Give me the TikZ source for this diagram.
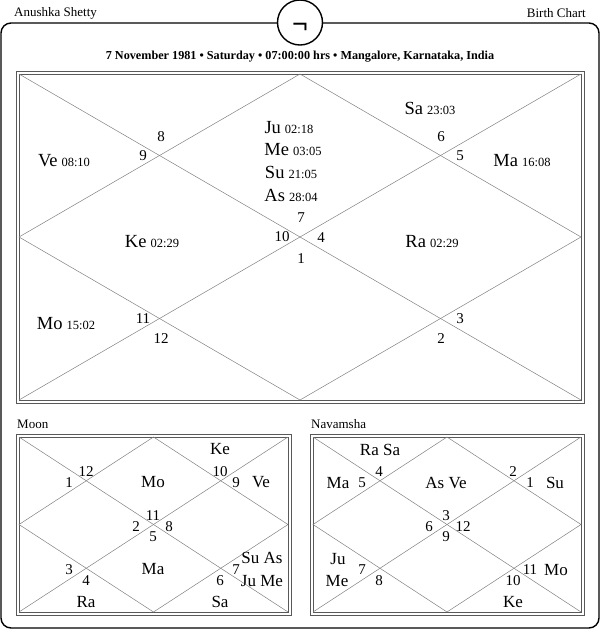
\documentclass[tikz,border=0pt]{standalone}
\usepackage{fontspec}
\setmainfont{Liberation Serif}
\usetikzlibrary{shapes.geometric,calc}
\newcommand{\sz}[1]{\fontsize{#1}{#1}\selectfont}
\newcommand{\pl}[2]{#1\hspace{4pt}{\sz{12.5}#2}}
\tikzset{
  framepath/.style={draw=black,line width=1.4pt,rounded corners=10pt},
  badge/.style={draw=black,fill=white,line width=1.4pt,ellipse,minimum width=45pt,minimum height=45pt,inner sep=0pt},
  box/.style={draw=black!65,line width=.8pt},
  cross/.style={draw=black!50,line width=.5pt},
  captxt/.style={inner sep=0pt,font=\sz{13}},
  big/.style={inner sep=0pt,font=\sz{18.5}},
  mid/.style={inner sep=0pt,font=\sz{17}},
  num/.style={inner sep=0pt,font=\sz{15}}
}
\newcommand{\chart}[5]{% name, x0,y0,x1,y1 (inner box)
  \coordinate (#1tl) at (#2,#3);
  \coordinate (#1tr) at (#4,#3);
  \coordinate (#1bl) at (#2,#5);
  \coordinate (#1br) at (#4,#5);
  \coordinate (#1t) at ({(#2+#4)/2},#3);
  \coordinate (#1b) at ({(#2+#4)/2},#5);
  \coordinate (#1l) at (#2,{(#3+#5)/2});
  \coordinate (#1r) at (#4,{(#3+#5)/2});
  \draw[box] (#1tl) rectangle (#1br);
  \draw[box] ($(#1tl)+(-3,-3)$) rectangle ($(#1br)+(3,3)$);
  \draw[cross] (#1tl) -- (#1br);
  \draw[cross] (#1tr) -- (#1bl);
  \draw[cross] (#1t) -- (#1r) -- (#1b) -- (#1l) -- cycle;
}
\begin{document}
\begin{tikzpicture}[x=1pt,y=-1pt]
\useasboundingbox (0,0) rectangle (600,630);
\coordinate (fa) at (1,23);
\coordinate (fb) at (599,23);
\coordinate (fc) at (599,628);
\coordinate (fd) at (1,628);
\draw[framepath] (fa) -- (fb) -- (fc) -- (fd) -- cycle;
\node[badge] (badge) at (300,22.5) {};
\node[inner sep=0pt,font=\sz{28}\bfseries] (sym) at (300,28.5) {¬};
\node[captxt,anchor=west] (person) at (14,13.5) {Anushka Shetty};
\node[captxt,anchor=east] (kind) at (586,13.5) {Birth Chart};
\node[inner sep=0pt,font=\sz{12.2}\bfseries] (title) at (300,56.5) {7 November 1981 • Saturday • 07:00:00 hrs • Mangalore, Karnataka, India};

\chart{m}{19}{74}{581}{400}
\chart{a}{19}{437}{288}{612}
\chart{b}{313}{437}{581}{612}

\node[big] (sa) at (430,108) {\pl{Sa}{23:03}};
\node[big] (ve) at (64,161) {\pl{Ve}{08:10}};
\node[big] (ju) at (289,128) {\pl{Ju}{02:18}};
\node[big] (me) at (293,150) {\pl{Me}{03:05}};
\node[big] (su) at (291,172) {\pl{Su}{21:05}};
\node[big] (as) at (291,195) {\pl{As}{28:04}};
\node[big] (ma) at (522,161) {\pl{Ma}{16:08}};
\node[big] (ke) at (152,242) {\pl{Ke}{02:29}};
\node[big] (ra) at (432,242) {\pl{Ra}{02:29}};
\node[big] (mo) at (66,324) {\pl{Mo}{15:02}};
\node[num] (m8) at (161,137) {8};
\node[num] (m9) at (143,156) {9};
\node[num] (m6) at (441,137) {6};
\node[num] (m5) at (460,156) {5};
\node[num] (m7) at (301,218) {7};
\node[num] (m10) at (282,237) {10};
\node[num] (m4) at (321,238) {4};
\node[num] (m1) at (301,259) {1};
\node[num] (m11) at (143,319) {11};
\node[num] (m12) at (161,339) {12};
\node[num] (m3) at (460,319) {3};
\node[num] (m2) at (441,339) {2};

\node[captxt,anchor=west] (moonlabel) at (17,424) {Moon};
\node[mid] (ake) at (220,449) {Ke};
\node[num] (a12) at (86,472) {12};
\node[num] (a1) at (69,483) {1};
\node[mid] (amo) at (153,482) {Mo};
\node[num] (a10) at (220,472) {10};
\node[num] (a9) at (236,483) {9};
\node[mid] (ave) at (261,482) {Ve};
\node[num] (a11) at (153,516) {11};
\node[num] (a2) at (136,527) {2};
\node[num] (a8) at (169,527) {8};
\node[num] (a5) at (153,537) {5};
\node[mid] (asu) at (262,558) {Su As};
\node[num] (a7) at (236,570) {7};
\node[mid] (aju) at (262,581) {Ju Me};
\node[num] (a3) at (69,570) {3};
\node[num] (a4) at (86,581) {4};
\node[mid] (ama) at (153,569) {Ma};
\node[num] (a6) at (220,581) {6};
\node[mid] (ara) at (86,602) {Ra};
\node[mid] (asa) at (220,602) {Sa};

\node[captxt,anchor=west] (navlabel) at (311,424) {Navamsha};
\node[mid] (bra) at (380,450) {Ra Sa};
\node[num] (b4) at (379,472) {4};
\node[mid] (bma) at (338,483) {Ma};
\node[num] (b5) at (362,483) {5};
\node[mid] (bas) at (446,483) {As Ve};
\node[num] (b2) at (513,472) {2};
\node[num] (b1) at (530,483) {1};
\node[mid] (bsu) at (555,483) {Su};
\node[num] (b3) at (446,516) {3};
\node[num] (b6) at (429,527) {6};
\node[num] (b12) at (463,527) {12};
\node[num] (b9) at (446,537) {9};
\node[mid] (bju) at (338,559) {Ju};
\node[mid] (bme) at (337,581) {Me};
\node[num] (b7) at (362,570) {7};
\node[num] (b8) at (379,581) {8};
\node[num] (b11) at (530,570) {11};
\node[mid] (bmo) at (556,570) {Mo};
\node[num] (b10) at (513,581) {10};
\node[mid] (bke) at (513,602) {Ke};
\end{tikzpicture}
\end{document}
